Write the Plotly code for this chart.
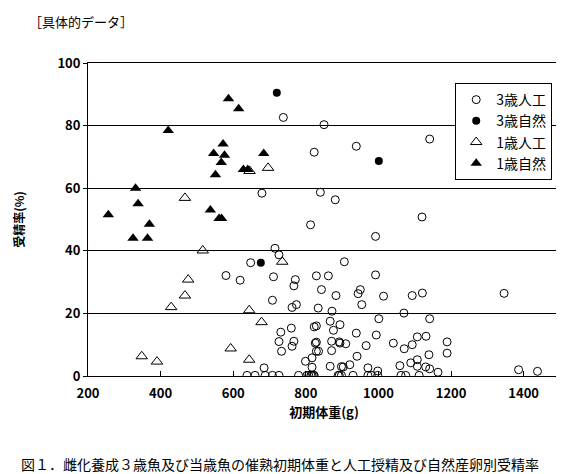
import plotly.graph_objects as go

# 3歳人工 (open circles)
age3_ai_x = [638, 660, 688, 708, 726, 780, 803, 808, 814, 817, 821, 823, 889, 892, 898, 930,
             971, 980, 998, 1062, 1075, 1112,
             685, 726, 733, 762, 767, 826, 829, 799, 817, 817, 871, 871, 894, 898, 903, 941,
             867, 921, 971, 998, 1059, 1089, 1107, 1107, 1130, 1141, 1164, 1386, 1438,
             731, 760, 829, 823, 876, 939, 994, 829, 892, 910, 966, 1041, 1071, 1093, 1107,
             1131, 1189, 1189, 835, 1139,
             708, 711, 619, 580, 648, 715, 726, 679, 738, 850, 1141, 939, 823, 840, 881,
             1120, 813, 992, 906, 771, 767, 829, 862, 992, 843, 883, 950, 944, 1014, 1093,
             1121, 954, 774, 762, 834, 872, 1070, 1001, 1141, 867, 894, 1346]
age3_ai_y = [0.2, 0.2, 0.2, 0.2, 0.2, 0.2, 0.2, 0.2, 0.2, 0.2, 0.2, 0.2, 0.2, 0.2, 0.2, 0.2,
             0.2, 0.2, 0.2, 0.2, 0.2, 0.2,
             2.6, 11.0, 7.9, 9.5, 11.1, 10.5, 7.9, 4.7, 2.8, 5.8, 11.1, 8.1, 10.5, 3.0, 2.9, 6.3,
             3.1, 3.6, 2.6, 1.6, 3.3, 4.2, 5.2, 3.1, 2.9, 2.3, 1.2, 2.0, 1.5,
             14.0, 15.3, 16.0, 15.7, 14.6, 13.7, 13.1, 10.8, 10.9, 10.3, 9.7, 10.5, 8.7, 10.0, 12.5,
             12.7, 10.9, 7.3, 7.9, 6.8,
             24.2, 31.7, 30.6, 32.1, 36.2, 40.8, 38.7, 58.4, 82.6, 80.3, 75.7, 73.4, 71.5, 58.7, 56.3,
             50.8, 48.3, 44.6, 36.5, 30.8, 28.8, 32.0, 32.0, 32.3, 27.6, 25.7, 27.6, 26.3, 25.5, 25.7,
             26.5, 22.8, 22.8, 21.9, 21.7, 20.7, 20.1, 18.3, 18.3, 17.5, 16.4, 26.4]

# 3歳自然 (filled circles)
age3_nat_x = [720, 1001, 676]
age3_nat_y = [90.5, 68.7, 36.2]

# 1歳人工 (open triangles)
age1_ai_x = [348, 390, 429, 467, 467, 476, 516, 593, 644, 644, 645, 678, 696, 735]
age1_ai_y = [6.3, 4.6, 22.0, 25.7, 56.9, 30.8, 40.1, 8.8, 21.0, 5.2, 65.5, 17.2, 66.5, 36.5]

# 1歳自然 (filled triangles)
age1_nat_x = [256, 324, 331, 338, 364, 369, 421, 537, 551, 546, 561, 568, 567, 572, 576,
              587, 615, 628, 640, 684]
age1_nat_y = [51.5, 44.0, 60.0, 55.0, 44.0, 48.5, 78.4, 53.0, 64.3, 71.1, 50.3, 50.3, 68.2,
              74.1, 70.5, 88.6, 85.4, 66.0, 66.0, 71.1]

JP = "Noto Sans CJK JP"

fig = go.Figure()

fig.add_trace(go.Scatter(
    x=age3_ai_x, y=age3_ai_y, mode="markers", name="3歳人工",
    marker=dict(symbol="circle-open", size=8, color="black", line=dict(width=1)),
))
fig.add_trace(go.Scatter(
    x=age3_nat_x, y=age3_nat_y, mode="markers", name="3歳自然",
    marker=dict(symbol="circle", size=8, color="black"),
))
fig.add_trace(go.Scatter(
    x=age1_ai_x, y=age1_ai_y, mode="markers", name="1歳人工",
    marker=dict(symbol="triangle-up-open", size=10, color="black", line=dict(width=1)),
))
fig.add_trace(go.Scatter(
    x=age1_nat_x, y=age1_nat_y, mode="markers", name="1歳自然",
    marker=dict(symbol="triangle-up", size=10, color="black"),
))

fig.update_layout(
    width=564,
    height=474,
    paper_bgcolor="white",
    plot_bgcolor="white",
    margin=dict(l=75, r=11, t=55, b=106),
    font=dict(family=JP, color="black", size=13),
    showlegend=True,
    legend=dict(
        x=0.778, y=0.936, xanchor="left", yanchor="top",
        bgcolor="white", bordercolor="black", borderwidth=1,
        font=dict(family=JP, size=14),
        tracegroupgap=0,
    ),
)

fig.update_xaxes(
    range=[200, 1500],
    tick0=200, dtick=200,
    ticks="inside", ticklen=5, tickcolor="black",
    ticklabelstandoff=5,
    showline=True, linecolor="black", linewidth=1, mirror=True,
    showgrid=False, zeroline=False,
    tickfont=dict(family=JP, size=13, weight="bold"),
    title=dict(text="初期体重(g)", font=dict(family=JP, size=13, weight="bold"), standoff=6),
)
fig.update_yaxes(
    range=[0, 100],
    tick0=0, dtick=20,
    ticks="outside", ticklen=4, tickcolor="black",
    showline=True, linecolor="black", linewidth=1, mirror=True,
    showgrid=True, gridcolor="black", gridwidth=1, zeroline=False,
    tickfont=dict(family=JP, size=13, weight="bold"),
    title=dict(text="受精率(%)", font=dict(family=JP, size=12, weight="bold"), standoff=30),
)

# header and caption, positioned relative to the plot area
fig.add_annotation(
    text="［具体的データ］", x=-0.13, y=1.131, xref="paper", yref="paper",
    xanchor="left", yanchor="middle", showarrow=False,
    font=dict(family=JP, size=13),
)
fig.add_annotation(
    text="図１．雌化養成３歳魚及び当歳魚の催熟初期体重と人工授精及び自然産卵別受精率",
    x=-0.146, y=-0.282, xref="paper", yref="paper",
    xanchor="left", yanchor="middle", showarrow=False,
    font=dict(family=JP, size=14),
)

fig.write_html("out.html")
